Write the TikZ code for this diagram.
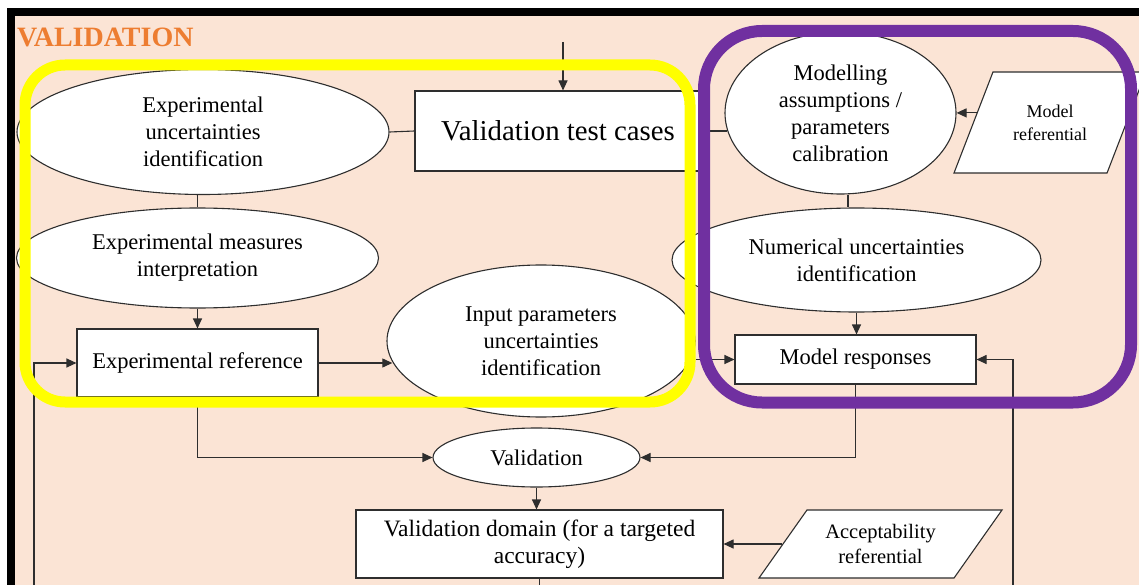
\documentclass[tikz,border=0pt]{standalone}
\usepackage{fontspec}
\setmainfont{Liberation Serif}
\usetikzlibrary{shapes.geometric,arrows.meta,calc}
\definecolor{peach}{HTML}{FBE4D5}
\definecolor{hdorange}{HTML}{ED7D31}
\definecolor{hlyellow}{HTML}{FFFF00}
\definecolor{hlpurple}{HTML}{7030A0}
\definecolor{inkline}{HTML}{2E2E2E}
\begin{document}
\begin{tikzpicture}[x=1pt,y=-1pt,
  txt/.style={font=\fontsize{22.5}{27}\selectfont, align=center, text=black},
  oval/.style={ellipse, draw=inkline, line width=1.1pt, fill=white, inner sep=0pt, txt},
  boxnode/.style={rectangle, draw=inkline, line width=1.1pt, fill=white, inner sep=0pt, txt},
  slanted/.style={trapezium, trapezium stretches body, draw=inkline, line width=1.1pt,
                  fill=white, inner xsep=0pt, minimum height=0pt},
  slantlabel/.style={align=center, text=black, inner sep=0pt},
  ln/.style={draw=inkline, line width=1.1pt},
  arr/.style={ln, -{Triangle[length=10pt,width=9pt]}},
  yframe/.style={draw=hlyellow, line width=11pt, rounded corners=40pt},
  pframe/.style={draw=hlpurple, line width=12pt, rounded corners=58pt}]
\useasboundingbox (0,0) rectangle (1139,585);
\clip (0,0) rectangle (1139,585);

% page frame and background
\fill[white] (0,0) rectangle (1139,585);
\fill[black] (7,8) rectangle (1139,585);
\fill[peach] (15,16) rectangle (1139,585);

\node[anchor=base west, inner sep=0pt, text=hdorange,
      font=\fontsize{28}{30}\selectfont\bfseries] (title) at (17,47) {VALIDATION};

% process nodes
\node[oval, minimum width=372pt, minimum height=125pt] (expunc) at (203,132)
  {Experimental\\uncertainties\\identification};
\node[boxnode, minimum width=286pt, minimum height=80pt,
      font=\fontsize{28.8}{32}\selectfont] (vtc) at (558,131) {Validation test cases};
\node[oval, minimum width=362pt, minimum height=100pt] (expmeas) at (197.5,258)
  {Experimental measures\\interpretation};
\node[boxnode, minimum width=241pt, minimum height=68pt] (expref) at (197.5,363)
  {Experimental reference};
\node[oval, minimum width=308pt, minimum height=152pt] (input) at (541,341)
  {Input parameters\\uncertainties\\identification};
\node[oval, minimum width=231pt, minimum height=162pt] (model) at (840.5,113)
  {Modelling\\assumptions /\\parameters\\calibration};
\node[slanted, trapezium left angle=68.9, trapezium right angle=111.1,
      minimum width=192pt, inner ysep=50.5pt,
      label={[slantlabel, font=\fontsize{18}{23}\selectfont]center:Model\\referential}]
      (mref) at (1050,122.5) {};
\node[oval, minimum width=369pt, minimum height=104pt] (numer) at (856.5,260)
  {Numerical uncertainties\\identification};
\node[boxnode, minimum width=241pt, minimum height=49pt] (mr) at (855.5,359.5)
  {Model responses};
\node[oval, minimum width=207pt, minimum height=59pt] (valid) at (536.5,457.5)
  {Validation};
\node[boxnode, minimum width=367pt, minimum height=68pt,
      font=\fontsize{23.5}{27}\selectfont] (vd) at (539.5,544)
  {Validation domain (for a targeted\\accuracy)};
\node[slanted, trapezium left angle=54.8, trapezium right angle=125.2,
      minimum width=243pt, inner ysep=34pt,
      label={[slantlabel, font=\fontsize{20.5}{24.5}\selectfont]center:Acceptability\\referential}]
      (acc) at (880.5,544) {};

% loose ends of the flow
\coordinate (vtcin) at (563,42);
\coordinate (vdout) at (539.5,590);
\coordinate (leftin) at (34,590);
\coordinate (rightin) at (1013,590);
\coordinate (mrefin) at ($(mref.bottom left corner)!0.594!(mref.top left corner)$);

% connectors
\draw[arr] (vtcin) -- (vtcin |- vtc.north);
\draw[ln] (expunc.east) -- (vtc.west);
\draw[ln] (vtc.east) -- (vtc.east -| model.189);
\draw[ln] (expmeas.north) -- (expmeas.north |- expunc.south);
\draw[arr] (expmeas.south) -- (expmeas.south |- expref.north);
\draw[arr] (expref.east) -- (expref.east -| input.188);
\draw[arr] (mr.west -| input.east) -- (mr.west);
\draw[ln] ([xshift=7.5pt]model.south) -- ([xshift=7.5pt]model.south |- numer.north);
\draw[arr] (mrefin) -- (mrefin -| model.east);
\draw[arr] (numer.south) -- (numer.south |- mr.north);
\draw[arr] (expref.south) |- (valid.west);
\draw[arr] (mr.south) |- (valid.east);
\draw[arr] (valid.south) -- (valid.south |- vd.north);
\draw[ln] (vd.south) -- (vdout);
\draw[arr] (acc.left side) -- (acc.left side -| vd.east);
\draw[arr] (rightin) |- (mr.east);
\draw[arr] (leftin) |- (expref.west);

% highlight frames
\draw[yframe] (25,65) rectangle (690,402);
\draw[pframe] (704,31) rectangle (1131,402.5);
\end{tikzpicture}
\end{document}
